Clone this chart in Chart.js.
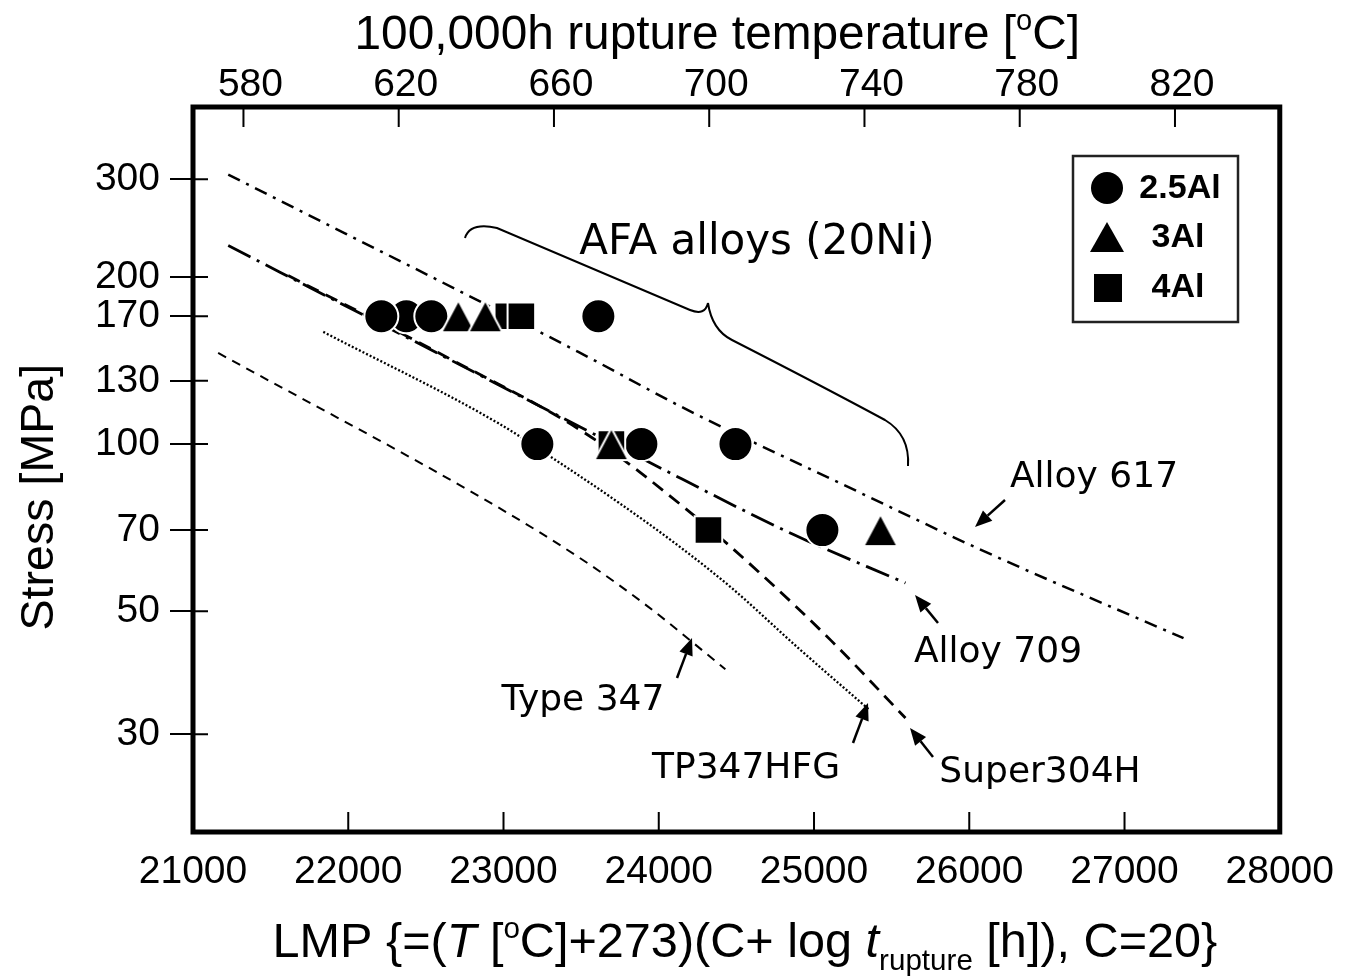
<!DOCTYPE html>
<html>
<head>
<meta charset="utf-8">
<title>AFA alloys - LMP vs stress</title>
<script src="https://cdn.jsdelivr.net/npm/chart.js@4.4.1/dist/chart.umd.min.js"></script>
<style>
  html, body { margin: 0; padding: 0; background: #fff; }
  #lmpChart { display: block; }
</style>
</head>
<body>
<canvas id="lmpChart" width="1351" height="976"></canvas>
<script>
// axis ticks
const lmpTicks = [21000, 22000, 23000, 24000, 25000, 26000, 27000, 28000];
const tempTicks = [580, 620, 660, 700, 740, 780, 820];
const stressTicks = [30, 50, 70, 100, 130, 170, 200, 300];

// reference curves (LMP, stress MPa)
const lmp617 = [21227, 23482, 24191, 25267, 26059, 27380];
const stress617 = [306, 146.6, 115, 82.5, 64.8, 44.7];
const lmp709 = [21227, 22232, 23914, 24854, 25589];
const stress709 = [227.9, 163.4, 93.5, 69.0, 56.2];
const lmpSuper304H = [21613, 22644, 23566, 24236, 24642, 25112, 25589];
const stressSuper304H = [201.2, 143.0, 102.9, 74.0, 58.9, 44.2, 32.1];
const lmpTP347HFG = [21839, 22966, 23308, 23740, 24126, 24468, 24899, 25351];
const stressTP347HFG = [159.3, 109.1, 94.7, 78.5, 65.6, 55.1, 42.9, 33.3];
const lmp347 = [21162, 22966, 23546, 23933, 24429];
const stress347 = [146.0, 76.9, 60.9, 50.9, 39.3];

// AFA alloy data points
const al25Lmp = [22374, 22213, 22535, 23611, 23218, 23888, 24494, 25054];
const al25Stress = [170, 170, 170, 170, 100, 100, 100, 70];
const al3Lmp = [22709, 22883, 23695, 25428];
const al3Stress = [170, 170, 100, 70];
const al4Lmp = [23031, 23115, 23695, 24320];
const al4Stress = [170, 170, 100, 70];

// 100,000 h -> LMP = (T+273)*(20+5)
const lmpToTemp = v => v / 25 - 273;

const pts = (xs, ys) => xs.map((x, i) => ({ x: x, y: ys[i] }));

const tickFont = { family: '"Liberation Sans", Arial, sans-serif', size: 39 };
const SANS = '"Liberation Sans", Arial, sans-serif';
const LABEL = '"DejaVu Sans", Verdana, sans-serif';

// triangle marker as a small canvas (chart.js triangle is too flat)
const makeTriangle = (w, h) => {
  const c = document.createElement('canvas');
  c.width = w + 4; c.height = h + 4;
  const g = c.getContext('2d');
  g.beginPath();
  g.moveTo(c.width / 2, 2);
  g.lineTo(c.width - 2, h + 2);
  g.lineTo(2, h + 2);
  g.closePath();
  g.fillStyle = '#000';
  g.fill();
  g.lineWidth = 2;
  g.strokeStyle = '#fff';
  g.stroke();
  return c;
};

const curve = (label, xs, ys, dash, width) => ({
  label: label,
  data: pts(xs, ys),
  showLine: true,
  borderColor: '#000',
  borderWidth: width,
  borderDash: dash,
  pointRadius: 0,
  cubicInterpolationMode: 'monotone',
  fill: false,
  order: 5
});

const marks = (label, xs, ys, style, radius, order) => ({
  label: label,
  data: pts(xs, ys),
  showLine: false,
  pointStyle: style,
  pointRadius: radius,
  backgroundColor: '#000',
  borderColor: '#fff',
  borderWidth: 2,
  order: order
});

// draw text made of several runs (italic, super/subscript), centered and fitted to a width
const drawRuns = (ctx, runs, cx, baseY, targetW) => {
  const fontOf = (r, k) => `${r.style || ''} ${Math.round(r.size * k * 10) / 10}px ${SANS}`;
  let w = 0;
  runs.forEach(r => { ctx.font = fontOf(r, 1); w += ctx.measureText(r.t).width; });
  const k = targetW ? targetW / w : 1;
  let x = cx - (w * k) / 2;
  ctx.textAlign = 'left';
  ctx.textBaseline = 'alphabetic';
  runs.forEach(r => {
    ctx.font = fontOf(r, k);
    ctx.fillText(r.t, x, baseY + (r.dy || 0) * k);
    x += ctx.measureText(r.t).width;
  });
};

const arrow = (ctx, x1, y1, x2, y2) => {
  const ang = Math.atan2(y2 - y1, x2 - x1);
  const len = 17, half = 7;
  const bx = x2 - Math.cos(ang) * len, by = y2 - Math.sin(ang) * len;
  ctx.lineWidth = 2.5;
  ctx.beginPath();
  ctx.moveTo(x1, y1);
  ctx.lineTo(bx, by);
  ctx.stroke();
  ctx.beginPath();
  ctx.moveTo(x2, y2);
  ctx.lineTo(bx + Math.sin(ang) * half, by - Math.cos(ang) * half);
  ctx.lineTo(bx - Math.sin(ang) * half, by + Math.cos(ang) * half);
  ctx.closePath();
  ctx.fill();
};

const decorPlugin = {
  id: 'decor',
  afterDraw(chart) {
    const ctx = chart.ctx;
    const a = chart.chartArea;
    const sx = chart.scales.x, sy = chart.scales.y, st = chart.scales.x2;
    ctx.save();
    ctx.strokeStyle = '#000';
    ctx.fillStyle = '#000';

    // inner tick marks
    ctx.lineWidth = 2;
    ctx.beginPath();
    stressTicks.forEach(v => {
      const y = sy.getPixelForValue(v);
      ctx.moveTo(a.left, y); ctx.lineTo(a.left + 15, y);
    });
    lmpTicks.forEach(v => {
      const x = sx.getPixelForValue(v);
      ctx.moveTo(x, a.bottom); ctx.lineTo(x, a.bottom - 20);
    });
    tempTicks.forEach(v => {
      const x = st.getPixelForValue(v);
      ctx.moveTo(x, a.top); ctx.lineTo(x, a.top + 20);
    });
    ctx.stroke();

    // frame
    ctx.lineWidth = 5;
    ctx.strokeRect(a.left, a.top, a.right - a.left, a.bottom - a.top);

    // axis titles
    drawRuns(ctx, [
      { t: '100,000h rupture temperature [', size: 46 },
      { t: 'o', size: 28, dy: -18 },
      { t: 'C]', size: 46 }
    ], 717, 49, 725);

    drawRuns(ctx, [
      { t: 'LMP {=(', size: 46 },
      { t: 'T', size: 46, style: 'italic' },
      { t: ' [', size: 46 },
      { t: 'o', size: 28, dy: -18 },
      { t: 'C]+273)(C+ log ', size: 46 },
      { t: 't', size: 46, style: 'italic' },
      { t: 'rupture', size: 28, dy: 12 },
      { t: ' [h]), C=20}', size: 46 }
    ], 745, 957, 945);

    ctx.save();
    ctx.translate(53, 497);
    ctx.rotate(-Math.PI / 2);
    drawRuns(ctx, [{ t: 'Stress [MPa]', size: 46 }], 0, 0, 267);
    ctx.restore();

    // legend box
    ctx.lineWidth = 2.5;
    ctx.strokeStyle = '#222';
    ctx.strokeRect(1073, 156, 165, 166);
    ctx.fillStyle = '#000';
    ctx.beginPath();
    ctx.arc(1107, 188, 16, 0, Math.PI * 2);
    ctx.fill();
    ctx.beginPath();
    ctx.moveTo(1107, 222); ctx.lineTo(1124, 252); ctx.lineTo(1090, 252);
    ctx.closePath();
    ctx.fill();
    ctx.fillRect(1094, 274, 28, 28);
    ctx.font = `bold 34px ${SANS}`;
    ctx.textAlign = 'center';
    ctx.textBaseline = 'middle';
    ctx.fillText('2.5Al', 1180, 189);
    ctx.fillText('3Al', 1178, 238);
    ctx.fillText('4Al', 1178, 288);

    // curly brace over the AFA points
    ctx.strokeStyle = '#000';
    ctx.lineWidth = 2;
    ctx.beginPath();
    ctx.moveTo(465, 238);
    ctx.quadraticCurveTo(470, 222, 497, 228);
    ctx.quadraticCurveTo(600, 272, 690, 310);
    ctx.quadraticCurveTo(705, 316, 708, 303);
    ctx.moveTo(708, 303);
    ctx.quadraticCurveTo(712, 330, 732, 340);
    ctx.quadraticCurveTo(820, 385, 885, 420);
    ctx.quadraticCurveTo(910, 435, 908, 466);
    ctx.stroke();

    // labels and arrows
    ctx.fillStyle = '#000';
    ctx.strokeStyle = '#000';
    ctx.textAlign = 'center';
    ctx.textBaseline = 'middle';
    ctx.font = `42px ${LABEL}`;
    ctx.fillText('AFA alloys (20Ni)', 757, 243);
    ctx.font = `36px ${LABEL}`;
    ctx.fillText('Alloy 617', 1094, 478);
    ctx.fillText('Alloy 709', 998, 653);
    ctx.fillText('Type 347', 583, 701);
    ctx.fillText('TP347HFG', 746, 769);
    ctx.fillText('Super304H', 1040, 773);
    arrow(ctx, 1005, 500, 975, 527);
    arrow(ctx, 938, 623, 915, 595);
    arrow(ctx, 677, 678, 692, 638);
    arrow(ctx, 853, 743, 868, 703);
    arrow(ctx, 933, 757, 910, 728);

    ctx.restore();
  }
};

document.addEventListener('DOMContentLoaded', () => {
  const ctx = document.getElementById('lmpChart').getContext('2d');

  new Chart(ctx, {
    type: 'scatter',
    data: {
      datasets: [
        curve('Alloy 617', lmp617, stress617, [13, 7, 3, 7], 2.5),
        curve('Alloy 709', lmp709, stress709, [25, 7, 3, 7], 2.8),
        curve('Super304H', lmpSuper304H, stressSuper304H, [13, 8], 2.8),
        curve('TP347HFG', lmpTP347HFG, stressTP347HFG, [2, 2], 2.3),
        curve('Type 347', lmp347, stress347, [9, 7], 2),
        marks('2.5Al', al25Lmp, al25Stress, 'circle', 17, 3),
        marks('4Al', al4Lmp, al4Stress, 'rect', 19.5, 2),
        marks('3Al', al3Lmp, al3Stress, makeTriangle(34, 32), 17, 1)
      ]
    },
    options: {
      responsive: false,
      animation: false,
      events: [],
      layout: { padding: { left: 0, right: 68, top: 0, bottom: 0 } },
      plugins: {
        legend: { display: false },
        tooltip: { enabled: false },
        title: { display: false }
      },
      scales: {
        x: {
          type: 'linear',
          position: 'bottom',
          min: lmpTicks[0],
          max: lmpTicks[lmpTicks.length - 1],
          afterBuildTicks: s => { s.ticks = lmpTicks.map(v => ({ value: v })); },
          afterFit: s => { s.height = 144; },
          grid: { display: false, drawTicks: false },
          border: { display: false },
          ticks: {
            font: tickFont,
            color: '#000',
            padding: 17,
            maxRotation: 0,
            autoSkip: false,
            callback: v => String(v)
          }
        },
        x2: {
          type: 'linear',
          position: 'top',
          min: lmpToTemp(lmpTicks[0]),
          max: lmpToTemp(lmpTicks[lmpTicks.length - 1]),
          afterBuildTicks: s => { s.ticks = tempTicks.map(v => ({ value: v })); },
          afterFit: s => { s.height = 107; },
          grid: { display: false, drawTicks: false },
          border: { display: false },
          ticks: {
            font: tickFont,
            color: '#000',
            padding: -2,
            labelOffset: 7,
            maxRotation: 0,
            autoSkip: false,
            callback: v => String(v)
          }
        },
        y: {
          type: 'logarithmic',
          min: 20,
          max: 405,
          afterBuildTicks: s => { s.ticks = stressTicks.map(v => ({ value: v })); },
          afterFit: s => { s.width = 193; },
          grid: {
            display: true,
            drawOnChartArea: false,
            drawTicks: true,
            tickLength: 23,
            color: '#000',
            lineWidth: 2
          },
          border: { display: false },
          ticks: {
            font: tickFont,
            color: '#000',
            padding: 10,
            autoSkip: false,
            callback: v => String(v)
          }
        }
      }
    },
    plugins: [decorPlugin]
  });
});
</script>
</body>
</html>
